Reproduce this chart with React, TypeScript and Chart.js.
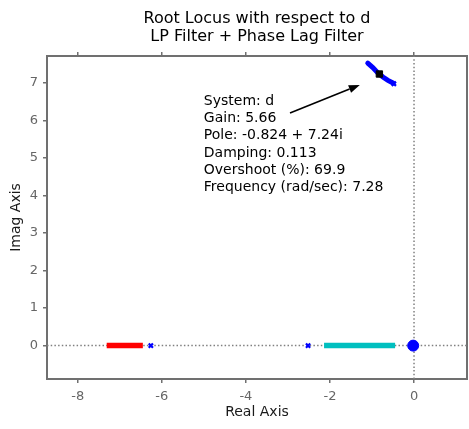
import React, { useEffect, useRef } from 'react';
import { Chart, registerables } from 'chart.js';

Chart.register(...registerables);

// Axis ranges and ticks
const xMin = -8.73;
const xMax = 1.26;
const yMin = -0.89;
const yMax = 7.72;
const xTicks = [-8, -6, -4, -2, 0];
const yTicks = [0, 1, 2, 3, 4, 5, 6, 7];

const titleLines = ['Root Locus with respect to d', 'LP Filter + Phase Lag Filter'];
const xLabel = 'Real Axis';
const yLabel = 'Imag Axis';

// Locus branches (real, imag)
const redRe = [-7.31, -6.45];
const redIm = [0, 0];
const cyanRe = [-2.14, -0.45];
const cyanIm = [0, 0];
const upperRe = [-1.1, -0.98, -0.86, -0.74, -0.62, -0.5];
const upperIm = [7.53, 7.41, 7.27, 7.16, 7.07, 7.0];
// open-loop poles (x marks)
const crossRe = [-6.26, -2.52, -0.48];
const crossIm = [0, 0, 6.98];
// cluster at origin
const circleRe = [-0.02];
const circleIm = [0];
// selected point
const selRe = [-0.824];
const selIm = [7.24];

const tipLines = [
  'System: d',
  'Gain: 5.66',
  'Pole: -0.824 + 7.24i',
  'Damping: 0.113',
  'Overshoot (%): 69.9',
  'Frequency (rad/sec): 7.28',
];
const tipAnchor = { x: -5.0, y: 6.52 };
const arrowFrom = { x: -2.95, y: 6.2 };
const arrowTo = { x: -1.29, y: 6.95 };

const FONT = 'DejaVu Sans';
const axisColor = '#707070';
const tickColor = '#666666';

const pts = (re: number[], im: number[]) => re.map((v, i) => ({ x: v, y: im[i] }));

const tipPlugin = {
  id: 'tipPlugin',
  afterDatasetsDraw(chart: any) {
    const { ctx, scales } = chart;
    const sx = scales.x;
    const sy = scales.y;
    ctx.save();
    ctx.font = `14px "${FONT}"`;
    ctx.fillStyle = '#000';
    ctx.textAlign = 'left';
    ctx.textBaseline = 'middle';
    const x0 = sx.getPixelForValue(tipAnchor.x);
    const y0 = sy.getPixelForValue(tipAnchor.y);
    tipLines.forEach((t, i) => ctx.fillText(t, x0, y0 + i * 17.3));

    const ax = sx.getPixelForValue(arrowFrom.x);
    const ay = sy.getPixelForValue(arrowFrom.y);
    const bx = sx.getPixelForValue(arrowTo.x);
    const by = sy.getPixelForValue(arrowTo.y);
    const ang = Math.atan2(by - ay, bx - ax);
    const hl = 11;
    const hw = 4;
    const baseX = bx - hl * Math.cos(ang);
    const baseY = by - hl * Math.sin(ang);
    ctx.strokeStyle = '#000';
    ctx.lineWidth = 1.6;
    ctx.beginPath();
    ctx.moveTo(ax, ay);
    ctx.lineTo(baseX, baseY);
    ctx.stroke();
    ctx.beginPath();
    ctx.moveTo(bx, by);
    ctx.lineTo(baseX + hw * Math.sin(ang), baseY - hw * Math.cos(ang));
    ctx.lineTo(baseX - hw * Math.sin(ang), baseY + hw * Math.cos(ang));
    ctx.closePath();
    ctx.fillStyle = '#000';
    ctx.fill();
    ctx.restore();
  },
};

const setTicks = (vals: number[]) => (s: any) => {
  s.ticks = vals.map((v) => ({ value: v }));
};

export default function App() {
  const ref = useRef<HTMLCanvasElement | null>(null);
  useEffect(() => {
    document.body.style.margin = '0';
    const canvas = ref.current;
    if (!canvas) return;
    const gridOpts = {
      drawOnChartArea: false,
      drawTicks: true,
      tickLength: 4,
      color: axisColor,
      lineWidth: 1.5,
    };
    const borderOpts = { display: true, color: axisColor, width: 2 };
    const tickFont = { family: FONT, size: 13 };
    const lineDs = (data: any[], color: string, width: number, order: number, extra: any = {}) => ({
      type: 'line',
      data,
      borderColor: color,
      borderWidth: width,
      pointRadius: 0,
      showLine: true,
      fill: false,
      order,
      ...extra,
    });
    const chart = new Chart(canvas, {
      type: 'scatter',
      data: {
        datasets: [
          {
            type: 'scatter',
            data: pts(selRe, selIm),
            pointStyle: 'rect',
            pointRadius: 4.5,
            backgroundColor: '#000',
            borderColor: '#000',
            borderWidth: 1,
            order: 0,
          } as any,
          {
            type: 'scatter',
            data: pts(crossRe, crossIm),
            pointStyle: 'crossRot',
            pointRadius: 3,
            borderColor: '#0000ff',
            borderWidth: 2.2,
            order: 1,
          } as any,
          {
            type: 'scatter',
            data: pts(circleRe, circleIm),
            pointStyle: 'circle',
            pointRadius: 5.5,
            backgroundColor: '#0000ff',
            borderColor: '#0000ff',
            borderWidth: 1,
            order: 1,
          } as any,
          lineDs(pts(upperRe, upperIm), '#0000ff', 5, 2, { borderCapStyle: 'round' }) as any,
          lineDs(pts(redRe, redIm), '#ff0000', 5.5, 2) as any,
          lineDs(pts(cyanRe, cyanIm), '#00bfbf', 5.5, 2) as any,
          lineDs(
            [
              { x: xMin, y: 0 },
              { x: xMax, y: 0 },
            ],
            '#808080',
            1.5,
            10,
            { borderDash: [1.5, 2.2] }
          ) as any,
          lineDs(
            [
              { x: 0, y: yMin },
              { x: 0, y: yMax },
            ],
            '#808080',
            1.5,
            10,
            { borderDash: [1.5, 2.2] }
          ) as any,
        ],
      },
      options: {
        responsive: false,
        animation: false,
        events: [],
        layout: { padding: 0, autoPadding: false },
        plugins: {
          legend: { display: false },
          tooltip: { enabled: false },
          title: {
            display: true,
            text: titleLines,
            color: '#000',
            font: { family: FONT, size: 16, lineHeight: 1.125, weight: 'normal' },
            padding: { top: 10, bottom: 0 },
            fullSize: false,
          },
        },
        scales: {
          x: {
            type: 'linear',
            position: 'bottom',
            min: xMin,
            max: xMax,
            bounds: 'data',
            afterBuildTicks: setTicks(xTicks),
            ticks: { color: tickColor, font: tickFont, padding: 6 },
            grid: gridOpts,
            border: borderOpts,
            title: {
              display: true,
              text: xLabel,
              color: '#1a1a1a',
              font: { family: FONT, size: 14, lineHeight: 1.2 },
              padding: { top: 0, bottom: 8.6 },
            },
            afterFit(s: any) {
              s.height = 50;
              s.paddingLeft = 0;
              s.paddingRight = 0;
            },
          },
          x2: {
            type: 'linear',
            position: 'top',
            min: xMin,
            max: xMax,
            bounds: 'data',
            afterBuildTicks: setTicks(xTicks),
            ticks: { display: false },
            grid: gridOpts,
            border: borderOpts,
            afterFit(s: any) {
              s.height = 10;
              s.paddingLeft = 0;
              s.paddingRight = 0;
            },
          },
          y: {
            type: 'linear',
            position: 'left',
            min: yMin,
            max: yMax,
            bounds: 'data',
            afterBuildTicks: setTicks(yTicks),
            ticks: { color: tickColor, font: tickFont, padding: 5 },
            grid: gridOpts,
            border: borderOpts,
            title: {
              display: true,
              text: yLabel,
              color: '#1a1a1a',
              font: { family: FONT, size: 14, lineHeight: 1.2 },
              padding: { top: 7.6, bottom: 0 },
            },
            afterFit(s: any) {
              s.width = 47;
              s.paddingTop = 0;
              s.paddingBottom = 0;
            },
          },
          y2: {
            type: 'linear',
            position: 'right',
            min: yMin,
            max: yMax,
            bounds: 'data',
            ticks: { display: false },
            grid: { display: false },
            border: borderOpts,
            afterFit(s: any) {
              s.width = 2;
              s.paddingTop = 0;
              s.paddingBottom = 0;
            },
          },
        },
      } as any,
      plugins: [tipPlugin],
    });
    return () => chart.destroy();
  }, []);
  return (
    <div style={{ width: 469, height: 429 }}>
      <canvas ref={ref} width={469} height={429} style={{ width: 469, height: 429, display: 'block' }} />
    </div>
  );
}
